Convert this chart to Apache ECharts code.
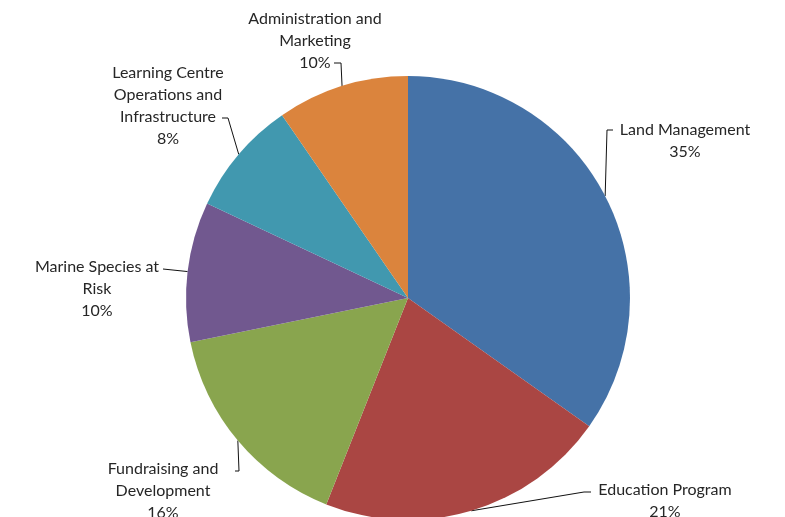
<!DOCTYPE html>
<html>
<head>
<meta charset="utf-8">
<script src="https://cdn.jsdelivr.net/npm/echarts@6/dist/echarts.min.js"></script>
<style>
html,body{margin:0;padding:0;background:#fff;}
#chart{width:785px;height:517px;}
</style>
</head>
<body>
<div id="chart"></div>
<script>
const categories = ["Land Management", "Education Program", "Fundraising and Development", "Marine Species at Risk", "Learning Centre Operations and Infrastructure", "Administration and Marketing"];
const labelTexts = ["Land Management", "Education Program", "Fundraising and\nDevelopment", "Marine Species at\nRisk", "Learning Centre\nOperations and\nInfrastructure", "Administration and\nMarketing"];
const values = [34.8, 21.2, 15.8, 10.2, 8.4, 9.6];
const colors = ["#4572A7", "#AA4643", "#89A54E", "#71588F", "#4198AF", "#DB843D"];

// label placement (style): text centre x, text top y, elbow point, anchor point
const labelLayoutCfg = [
  {x: 685, y: 119, ex: 607, ey: 130, ax: 613, ay: 130},
  {x: 665, y: 479, ex: 584, ey: 492, ax: 591, ay: 492},
  {x: 163, y: 458, ex: 239, ey: 471, ax: 235, ay: 471},
  {x: 97,  y: 256, ex: 163, ey: 269, ax: 163, ay: 269},
  {x: 168, y: 62,  ex: 228, ey: 118, ax: 222, ay: 118},
  {x: 315, y: 8,   ex: 341, ey: 63,  ax: 334, ay: 63}
];

const CX = 408, CY = 298, R = 222;
const total = values.reduce((a, b) => a + b, 0);
const midAngles = [];
let acc = 0;
values.forEach(v => { midAngles.push((acc + v / 2) / total * 2 * Math.PI); acc += v; });

const chart = echarts.init(document.getElementById('chart'), null, {renderer: 'canvas'});
chart.setOption({
  animation: false,
  backgroundColor: '#ffffff',
  series: [{
    type: 'pie',
    center: [CX, CY],
    radius: R,
    startAngle: 90,
    clockwise: true,
    avoidLabelOverlap: false,
    data: categories.map((c, i) => ({name: c, value: values[i], itemStyle: {color: colors[i]}})),
    itemStyle: {borderColor: '#ffffff', borderWidth: 0},
    label: {
      show: true,
      position: 'outside',
      formatter: p => labelTexts[p.dataIndex] + '\n' + Math.round(p.percent) + '%',
      fontFamily: 'Lato, "Open Sans", sans-serif',
      fontSize: 16,
      lineHeight: 22,
      color: '#262626',
      align: 'center'
    },
    labelLine: {
      show: true,
      length: 10,
      length2: 10,
      smooth: false,
      lineStyle: {color: '#111111', width: 1}
    },
    labelLayout: function (p) {
      const L = labelLayoutCfg[p.dataIndex];
      const a = midAngles[p.dataIndex];
      const edge = [CX + R * Math.sin(a), CY - R * Math.cos(a)];
      return {
        x: L.x, y: L.y, align: 'center', verticalAlign: 'top',
        labelLinePoints: [edge, [L.ex, L.ey], [L.ax, L.ay]]
      };
    }
  }]
});
</script>
</body>
</html>
